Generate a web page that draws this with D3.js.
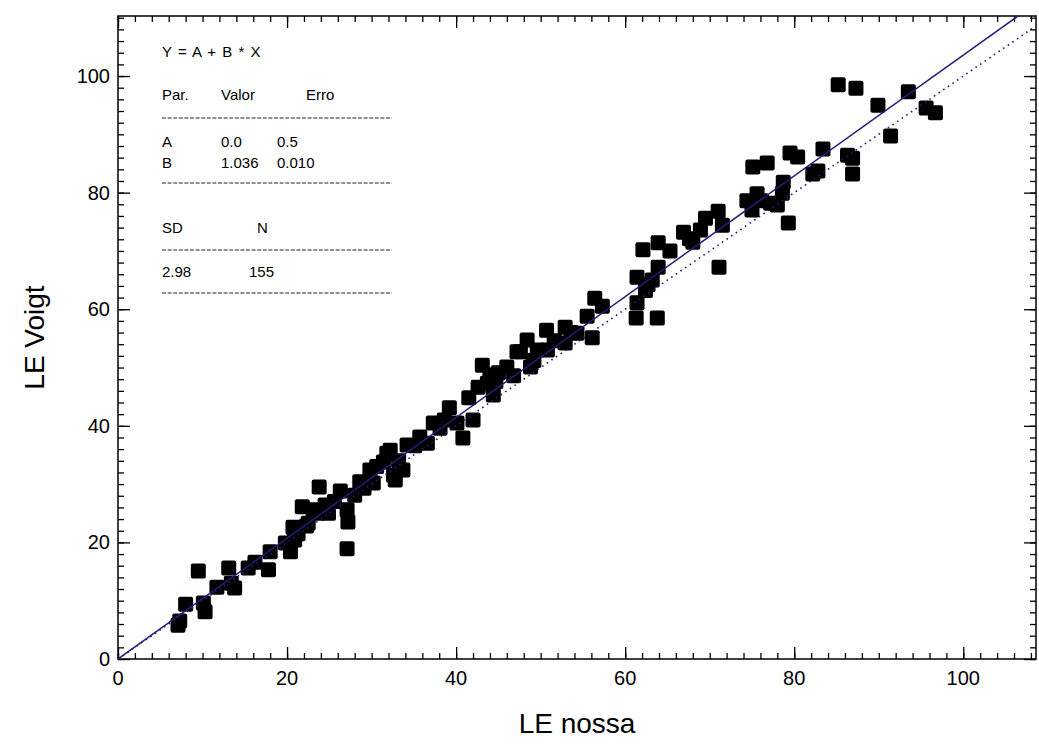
<!DOCTYPE html>
<html>
<head>
<meta charset="utf-8">
<script src="https://cdn.jsdelivr.net/npm/d3@7"></script>
<style>
  body { margin: 0; background: #fff; }
  svg text { font-family: "Liberation Sans", Arial, sans-serif; }
</style>
</head>
<body>
<div id="chart"></div>
<script>
// LE nossa (x) vs LE Voigt (y)
var leNossa = [7.1, 7.3, 8.0, 9.5, 10.1, 10.3, 11.7, 13.1, 13.4, 13.8, 15.4, 16.2, 17.8, 18.0, 19.8, 20.4,
  20.7, 20.9, 21.8, 22.5, 23.1, 23.6, 23.8, 24.5, 24.9, 26.3, 27.1, 27.2, 27.1, 28.0, 28.6, 29.8, 30.2,
  31.4, 31.8, 32.2, 32.8, 32.6, 33.7, 34.2, 35.7, 36.6, 37.3, 38.1, 39.2, 40.1, 40.8, 41.5, 42.0, 43.1,
  43.7, 44.0, 44.4, 45.0, 46.0, 47.2, 47.6, 48.4, 48.8, 49.6, 50.7, 50.8, 52.9, 52.9, 54.3, 55.5, 56.1,
  56.4, 57.3, 61.3, 61.4, 61.4, 62.1, 62.7, 63.2, 63.8, 63.9, 63.9, 65.3, 66.9, 68.0, 68.9, 69.5, 71.0,
  71.5, 71.1, 74.4, 75.0, 75.1, 75.6, 76.8, 77.2, 78.0, 78.7, 78.6, 79.3, 79.5, 80.4, 82.2, 82.8, 83.4,
  85.2, 86.3, 86.9, 86.9, 87.3, 89.9, 91.4, 93.5, 95.6, 96.7,
  21.3, 22.3, 25.6, 29.1, 30.6, 33.2, 35.1, 38.6, 42.6, 44.7, 46.8, 49.2, 51.6, 53.6, 62.4, 67.6, 76.1];
var leVoigt = [5.8, 6.5, 9.4, 15.1, 9.6, 8.1, 12.3, 15.6, 13.0, 12.2, 15.6, 16.6, 15.3, 18.4, 19.9, 18.4,
  22.6, 20.4, 26.1, 23.3, 25.6, 25.0, 29.5, 26.4, 25.0, 28.8, 25.6, 23.5, 18.9, 28.1, 30.4, 32.4, 30.2,
  33.8, 35.3, 35.8, 30.7, 31.5, 32.4, 36.7, 38.1, 37.0, 40.5, 39.6, 43.1, 40.5, 37.9, 44.8, 41.0, 50.4,
  47.3, 48.7, 45.3, 49.1, 50.1, 52.7, 52.7, 54.7, 50.1, 53.0, 56.4, 53.0, 56.9, 54.2, 55.9, 58.8, 55.1,
  61.9, 60.5, 58.5, 61.1, 65.5, 70.2, 64.2, 65.0, 58.5, 67.2, 71.4, 70.0, 73.2, 71.5, 73.6, 75.6, 76.8,
  74.4, 67.2, 78.6, 77.0, 84.4, 79.8, 85.1, 78.2, 77.9, 81.8, 79.9, 74.8, 86.8, 86.1, 83.2, 83.7, 87.5,
  98.5, 86.4, 85.9, 83.2, 97.9, 95.0, 89.7, 97.3, 94.5, 93.7,
  21.5, 22.8, 27.0, 29.3, 33.0, 34.0, 36.6, 41.0, 46.6, 47.6, 48.6, 51.2, 54.6, 56.0, 63.2, 72.1, 78.6];

var fitA = 0.0, fitB = 1.036;
var xTicks = [0, 20, 40, 60, 80, 100];
var yTicks = [0, 20, 40, 60, 80, 100];
var boxTitle = "Y = A + B * X";
var parHeader = ["Par.", "Valor", "Erro"];
var parRows = [["A", "0.0", "0.5"], ["B", "1.036", "0.010"]];
var statHeader = ["SD", "N"];
var statRow = ["2.98", "155"];

(function() {
  var width = 1039, height = 745;
  var pLeft = 118, pRight = 1036, pTop = 16, pBottom = 659;
  var ink = "#231f78";

  var svg = d3.select("#chart").append("svg")
      .attr("width", width)
      .attr("height", height);

  var x = d3.scaleLinear().domain([0, 108.6]).range([pLeft, pRight]);
  var y = d3.scaleLinear().domain([0, 110.3]).range([pBottom, pTop]);

  svg.append("clipPath").attr("id", "plotClip")
    .append("rect")
      .attr("x", pLeft).attr("y", pTop)
      .attr("width", pRight - pLeft).attr("height", pBottom - pTop);

  // minor + major ticks, pointing inward on all four sides
  var minorX = d3.range(0, 109, 2);
  var minorY = d3.range(0, 111, 2);
  svg.append("g").attr("transform", "translate(0," + pBottom + ")")
    .call(d3.axisTop(x).tickValues(minorX).tickSize(6).tickFormat(""));
  svg.append("g").attr("transform", "translate(0," + pBottom + ")")
    .call(d3.axisTop(x).tickValues(xTicks).tickSize(12).tickFormat(""));
  svg.append("g").attr("transform", "translate(0," + pTop + ")")
    .call(d3.axisBottom(x).tickValues(minorX).tickSize(6).tickFormat(""));
  svg.append("g").attr("transform", "translate(0," + pTop + ")")
    .call(d3.axisBottom(x).tickValues(xTicks).tickSize(12).tickFormat(""));
  svg.append("g").attr("transform", "translate(" + pLeft + ",0)")
    .call(d3.axisRight(y).tickValues(minorY).tickSize(6).tickFormat(""));
  svg.append("g").attr("transform", "translate(" + pLeft + ",0)")
    .call(d3.axisRight(y).tickValues(yTicks).tickSize(12).tickFormat(""));
  svg.append("g").attr("transform", "translate(" + pRight + ",0)")
    .call(d3.axisLeft(y).tickValues(minorY).tickSize(6).tickFormat(""));
  svg.append("g").attr("transform", "translate(" + pRight + ",0)")
    .call(d3.axisLeft(y).tickValues(yTicks).tickSize(12).tickFormat(""));

  svg.selectAll(".domain").remove();
  svg.selectAll(".tick line").attr("stroke", "#000").attr("stroke-width", 1.3);

  // frame
  svg.append("rect")
      .attr("x", pLeft).attr("y", pTop)
      .attr("width", pRight - pLeft).attr("height", pBottom - pTop)
      .attr("fill", "none")
      .attr("stroke", "#000")
      .attr("stroke-width", 1.5);

  // tick labels
  svg.selectAll(".xlab").data(xTicks).enter().append("text")
      .attr("x", function(d) { return x(d); })
      .attr("y", pBottom + 26)
      .attr("text-anchor", "middle")
      .style("font-size", "20px")
      .text(function(d) { return d; });
  svg.selectAll(".ylab").data(yTicks).enter().append("text")
      .attr("x", pLeft - 8)
      .attr("y", function(d) { return y(d) + 7; })
      .attr("text-anchor", "end")
      .style("font-size", "20px")
      .text(function(d) { return d; });

  // axis titles
  svg.append("text")
      .attr("x", (pLeft + pRight) / 2)
      .attr("y", 733)
      .attr("text-anchor", "middle")
      .style("font-size", "28px")
      .text("LE nossa");
  svg.append("text")
      .attr("transform", "translate(44," + ((pTop + pBottom) / 2) + ") rotate(-90)")
      .attr("text-anchor", "middle")
      .style("font-size", "28px")
      .text("LE Voigt");

  // points
  var pts = leNossa.map(function(v, i) { return [v, leVoigt[i]]; });
  svg.append("g").selectAll("rect").data(pts).enter().append("rect")
      .attr("x", function(d) { return x(d[0]) - 7.5; })
      .attr("y", function(d) { return y(d[1]) - 7.5; })
      .attr("width", 15).attr("height", 15)
      .attr("rx", 2)
      .attr("fill", "#000");

  // fit line (solid) and y = x (dotted)
  var plotG = svg.append("g").attr("clip-path", "url(#plotClip)");
  plotG.append("line")
      .attr("x1", x(0)).attr("y1", y(fitA))
      .attr("x2", x(110)).attr("y2", y(fitA + fitB * 110))
      .attr("stroke", ink).attr("stroke-width", 1.5);
  plotG.append("line")
      .attr("x1", x(0)).attr("y1", y(0))
      .attr("x2", x(110)).attr("y2", y(110))
      .attr("stroke", ink).attr("stroke-width", 1.6)
      .attr("stroke-dasharray", "1.6,4");

  // fit results box
  var box = svg.append("g").style("font-size", "15px").attr("fill", "#000");
  var colX = [162, 221, 277];
  box.append("text").attr("x", 162).attr("y", 57)
      .style("word-spacing", "2px").text(boxTitle);
  box.append("text").attr("x", 162).attr("y", 100).text(parHeader[0]);
  box.append("text").attr("x", 221).attr("y", 100).text(parHeader[1]);
  box.append("text").attr("x", 306).attr("y", 100).text(parHeader[2]);
  parRows.forEach(function(r, i) {
    r.forEach(function(c, j) {
      box.append("text").attr("x", colX[j]).attr("y", 147 + i * 21).text(c);
    });
  });
  box.append("text").attr("x", 162).attr("y", 233).text(statHeader[0]);
  box.append("text").attr("x", 257).attr("y", 233).text(statHeader[1]);
  box.append("text").attr("x", 162).attr("y", 277).text(statRow[0]);
  box.append("text").attr("x", 249).attr("y", 277).text(statRow[1]);

  [118, 183, 250, 293].forEach(function(yy) {
    box.append("line")
        .attr("x1", 162).attr("x2", 392)
        .attr("y1", yy).attr("y2", yy)
        .attr("stroke", "#222")
        .attr("stroke-width", 1)
        .attr("stroke-dasharray", "4,1.6");
  });
})();
</script>
</body>
</html>
